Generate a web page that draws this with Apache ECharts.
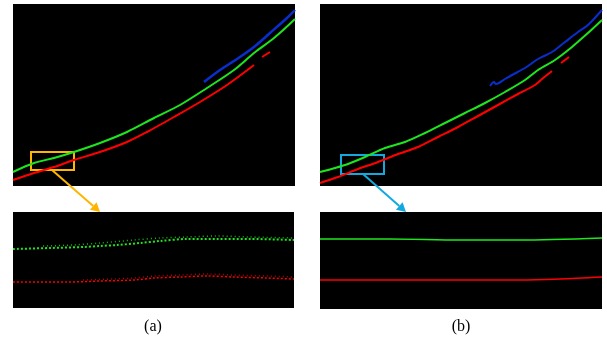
<!DOCTYPE html>
<html>
<head>
<meta charset="utf-8">
<script src="https://cdn.jsdelivr.net/npm/echarts@6/dist/echarts.min.js"></script>
<style>
  html, body { margin: 0; padding: 0; background: #fff; }
  #main { width: 607px; height: 343px; }
</style>
</head>
<body>
<div id="main"></div>
<script>
// panel coordinates (x to the right, y downwards, pixels inside each panel)
var greenA = [[0,168],[21,159],[41,154],[61,148],[87,139],[114,128],[141,114],[167,101],[194,84],[221,66],[241,49],[261,34],[282,15]];
var redA = [[0,176],[21,169],[41,163],[61,156],[87,148],[114,138],[134,128],[161,113],[187,98],[214,81],[241,61]];
var redA2 = [[249,53],[257,48]];
var blueA = [[191,78],[207,66],[224,55],[241,43],[257,29],[274,14],[282,6]];

var greenB = [[0,168],[15,164],[28,160],[45,153],[65,144],[85,138],[105,129],[125,119],[145,109],[165,99],[185,88],[205,76],[218,66],[235,56],[252,43],[268,29],[282,16]];
var redB = [[0,179],[18,173],[38,165],[58,158],[78,150],[98,143],[118,133],[138,123],[158,112],[178,101],[198,90],[215,81],[222,75],[232,67]];
var redB2 = [[241,59],[249,53]];
var blueB = [[170,82],[174,78],[176,80],[185,75],[192,71],[205,64],[218,55],[232,48],[245,38],[258,28],[268,21],[282,6]];

// zoomed strips
var greenZa = [[0,37],[37,36],[71,35],[87,34],[104,33],[127,31],[147,29],[174,27],[204,27],[237,27],[281,28]];
var greenZaTop = [[30,34],[60,33],[87,31],[121,28],[147,26],[174,25],[204,24],[237,25],[281,26]];
var redZa = [[0,70],[54,70],[87,69],[121,68],[141,66],[167,65],[194,64],[221,65],[254,66],[281,67]];
var redZaTop = [[70,68],[100,67],[121,66],[141,64],[167,63],[194,62],[221,63],[254,64],[281,65]];
var greenZb = [[0,27],[70,27],[140,28],[200,28],[282,26]];
var redZb = [[0,68],[70,68],[140,68],[200,68],[240,67],[282,65]];

// zoom boxes [x0, y0, x1, y1]
var boxA = [18, 148, 61, 166];
var boxB = [21, 151, 64, 170];

var labels = ['(a)', '(b)'];

var GREEN = '#1ee61e', RED = '#ff0000', BLUE = '#0a2ecc';
var ORANGE = '#ffb400', CYAN = '#14a8e0';

var chart = echarts.init(document.getElementById('main'));

var grids = [
    {left: 13, top: 4, width: 282, height: 182},
    {left: 320, top: 4, width: 282, height: 182},
    {left: 13, top: 212, width: 281, height: 96},
    {left: 320, top: 212, width: 282, height: 97}
];
grids.forEach(function (g) {
    g.show = true; g.backgroundColor = '#000'; g.borderWidth = 0;
});

function xAx(i, max) {
    return {gridIndex: i, type: 'value', min: 0, max: max, show: false};
}
function yAx(i, max) {
    return {gridIndex: i, type: 'value', min: 0, max: max, inverse: true, show: false};
}

function ln(i, data, color, width, type) {
    return {
        type: 'line', xAxisIndex: i, yAxisIndex: i, data: data,
        symbol: 'none', smooth: 0.3, animation: false,
        lineStyle: {color: color, width: width, type: type || 'solid'}
    };
}

function box(b, color) {
    return {
        silent: true,
        itemStyle: {color: 'rgba(0,0,0,0)', borderColor: color, borderWidth: 2},
        data: [[{coord: [b[0], b[1]]}, {coord: [b[2], b[3]]}]]
    };
}

var sA = ln(0, greenA, GREEN, 2);
sA.markArea = box(boxA, ORANGE);
var sB = ln(1, greenB, GREEN, 2);
sB.markArea = box(boxB, CYAN);

// dotted band rows in the (a) close-up
var zaTopG = ln(2, greenZaTop, GREEN, 1.5, [1, 3]);
zaTopG.lineStyle.opacity = 0.8;
var zaTopR = ln(2, redZaTop, RED, 1.5, [1, 3]);
zaTopR.lineStyle.opacity = 0.7;

function arrow(x1, y1, x2, y2, color) {
    var ang = Math.atan2(y2 - y1, x2 - x1);
    var L = 9, W = 5;
    var bx = x2 - L * Math.cos(ang), by = y2 - L * Math.sin(ang);
    var px = -Math.sin(ang) * W, py = Math.cos(ang) * W;
    return [
        {type: 'line', shape: {x1: x1, y1: y1, x2: bx, y2: by}, style: {stroke: color, lineWidth: 2}},
        {type: 'polygon', shape: {points: [[x2, y2], [bx + px, by + py], [bx - px, by - py]]}, style: {fill: color}}
    ];
}

chart.setOption({
    backgroundColor: '#fff',
    animation: false,
    grid: grids,
    xAxis: [xAx(0, 282), xAx(1, 282), xAx(2, 281), xAx(3, 282)],
    yAxis: [yAx(0, 182), yAx(1, 182), yAx(2, 96), yAx(3, 97)],
    series: [
        sA, ln(0, redA, RED, 2), ln(0, redA2, RED, 2), ln(0, blueA, BLUE, 2.5),
        sB, ln(1, redB, RED, 2), ln(1, redB2, RED, 2), ln(1, blueB, BLUE, 2),
        ln(2, greenZa, GREEN, 2, [2, 2]), zaTopG,
        ln(2, redZa, RED, 1.5, [2, 2]), zaTopR,
        ln(3, greenZb, GREEN, 1.5), ln(3, redZb, RED, 1.5)
    ],
    graphic: [].concat(
        arrow(52, 170, 100, 212, ORANGE),
        arrow(363, 174, 406, 212, CYAN),
        [
            {type: 'text', x: 153, y: 327, style: {text: labels[0], font: '16px "Liberation Serif", serif', fill: '#000', align: 'center', verticalAlign: 'middle'}},
            {type: 'text', x: 461, y: 327, style: {text: labels[1], font: '16px "Liberation Serif", serif', fill: '#000', align: 'center', verticalAlign: 'middle'}}
        ]
    )
});
</script>
</body>
</html>
